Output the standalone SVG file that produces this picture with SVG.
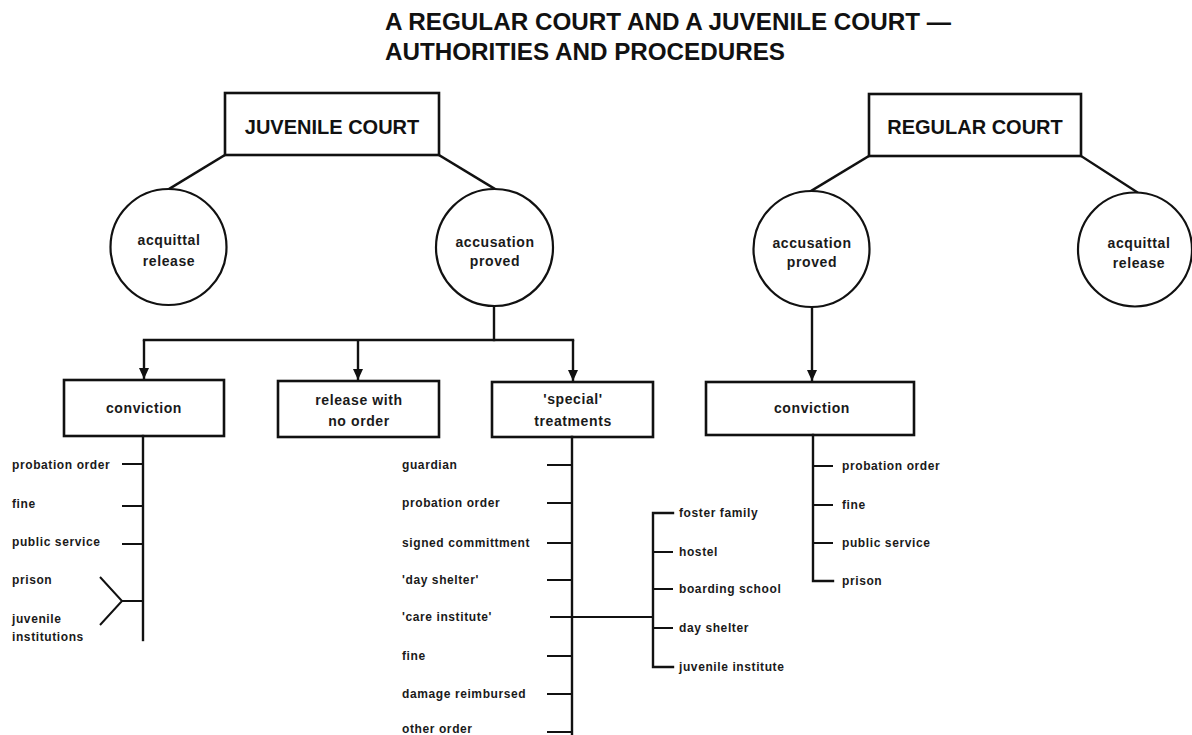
<svg xmlns="http://www.w3.org/2000/svg" width="1192" height="735" viewBox="0 0 1192 735">
<defs>
<marker id="arrow" markerUnits="userSpaceOnUse" markerWidth="11" markerHeight="10" refX="11" refY="5" orient="auto" viewBox="0 0 11 10">
<path d="M0,0 L11,5 L0,10 Z" fill="#111"/>
</marker>
<style>
.box{fill:#fff;stroke:#111;stroke-width:2.6}
.circ{fill:#fff;stroke:#111;stroke-width:2.2}
.ln{fill:none;stroke:#111;stroke-width:2.4;stroke-linecap:square}
.ar{fill:none;stroke:#111;stroke-width:2.4}
.tk{fill:none;stroke:#111;stroke-width:2}
.title{font-family:"Liberation Sans",Arial,sans-serif;font-weight:bold;font-size:24px;fill:#111}
.big{font-family:"Liberation Sans",Arial,sans-serif;font-weight:bold;font-size:20px;fill:#111;text-anchor:middle}
.mid{font-family:"Liberation Sans",Arial,sans-serif;font-weight:bold;font-size:14px;letter-spacing:0.6px;fill:#1a1a1a;text-anchor:middle}
.sm{font-family:"Liberation Sans",Arial,sans-serif;font-weight:bold;font-size:12px;letter-spacing:0.6px;fill:#1a1a1a}
</style>
</defs>
<rect width="1192" height="735" fill="#fff"/>

<g id="title">
<text class="title" x="385" y="30" textLength="566" lengthAdjust="spacingAndGlyphs">A REGULAR COURT AND A JUVENILE COURT —</text>
<text class="title" x="385" y="60" textLength="400" lengthAdjust="spacingAndGlyphs">AUTHORITIES AND PROCEDURES</text>
</g>

<g id="connectors">
<line class="ln" x1="225" y1="155" x2="169" y2="189"/>
<line class="ln" x1="439" y1="155" x2="495" y2="189"/>
<line class="ln" x1="869" y1="156" x2="811" y2="191"/>
<line class="ln" x1="1081" y1="156" x2="1137" y2="192"/>
<line class="ln" x1="494" y1="306" x2="494" y2="340"/>
<line class="ln" x1="144" y1="340" x2="573" y2="340"/>
<line class="ar" x1="144" y1="340" x2="144" y2="379" marker-end="url(#arrow)"/>
<line class="ar" x1="358" y1="340" x2="358" y2="380" marker-end="url(#arrow)"/>
<line class="ar" x1="573" y1="340" x2="573" y2="381" marker-end="url(#arrow)"/>
<line class="ar" x1="812" y1="307" x2="812" y2="381" marker-end="url(#arrow)"/>
</g>

<g id="juvenile-court">
<rect class="box" x="225" y="93" width="214" height="62"/>
<text class="big" x="332" y="134">JUVENILE COURT</text>
</g>

<g id="regular-court">
<rect class="box" x="869" y="94" width="212" height="62"/>
<text class="big" x="975" y="134">REGULAR COURT</text>
</g>

<g id="juv-acquittal">
<circle class="circ" cx="168.5" cy="247" r="58"/>
<text class="mid" x="169" y="245">acquittal</text>
<text class="mid" x="169" y="266">release</text>
</g>

<g id="juv-accusation">
<circle class="circ" cx="494.5" cy="247.5" r="58.5"/>
<text class="mid" x="495" y="247">accusation</text>
<text class="mid" x="495" y="266">proved</text>
</g>

<g id="reg-accusation">
<circle class="circ" cx="811.5" cy="249" r="58"/>
<text class="mid" x="812" y="248">accusation</text>
<text class="mid" x="812" y="267">proved</text>
</g>

<g id="reg-acquittal">
<circle class="circ" cx="1135" cy="249.5" r="57"/>
<text class="mid" x="1139" y="248">acquittal</text>
<text class="mid" x="1139" y="268">release</text>
</g>

<g id="juv-conviction">
<rect class="box" x="64" y="380" width="160" height="56"/>
<text class="mid" x="144" y="413">conviction</text>
</g>

<g id="juv-release">
<rect class="box" x="278" y="381" width="161" height="56"/>
<text class="mid" x="359" y="405">release with</text>
<text class="mid" x="359" y="426">no order</text>
</g>

<g id="juv-special">
<rect class="box" x="492" y="382" width="161" height="55"/>
<text class="mid" x="573" y="404">'special'</text>
<text class="mid" x="573" y="426">treatments</text>
</g>

<g id="reg-conviction">
<rect class="box" x="706" y="382" width="208" height="53"/>
<text class="mid" x="812" y="413">conviction</text>
</g>

<g id="juv-conviction-options">
<path class="ln" d="M143,436 V640"/>
<path class="tk" d="M122,464 H143 M122,506 H143 M122,544 H143 M122,601 H143 M100,577 L122,601 L100,625"/>
<text class="sm" x="12" y="469">probation order</text>
<text class="sm" x="12" y="508">fine</text>
<text class="sm" x="12" y="546">public service</text>
<text class="sm" x="12" y="584">prison</text>
<text class="sm" x="12" y="623">juvenile</text>
<text class="sm" x="12" y="641">institutions</text>
</g>

<g id="juv-special-options">
<path class="ln" d="M572,437 V735"/>
<path class="tk" d="M547,465 H572 M547,503 H572 M547,543 H572 M547,580 H572 M550,617 H653 M547,656 H572 M547,694 H572 M547,732 H572"/>
<text class="sm" x="402" y="469">guardian</text>
<text class="sm" x="402" y="507">probation order</text>
<text class="sm" x="402" y="547">signed committment</text>
<text class="sm" x="402" y="584">'day shelter'</text>
<text class="sm" x="402" y="621">'care institute'</text>
<text class="sm" x="402" y="660">fine</text>
<text class="sm" x="402" y="698">damage reimbursed</text>
<text class="sm" x="402" y="733">other order</text>
</g>

<g id="care-institute-options">
<path class="ln" d="M673,513 H653 V667 H673"/>
<path class="tk" d="M653,552 H673 M653,589 H673 M653,628 H673"/>
<text class="sm" x="679" y="517">foster family</text>
<text class="sm" x="679" y="556">hostel</text>
<text class="sm" x="679" y="593">boarding school</text>
<text class="sm" x="679" y="632">day shelter</text>
<text class="sm" x="679" y="671">juvenile institute</text>
</g>

<g id="reg-conviction-options">
<path class="ln" d="M813,435 V581 H833"/>
<path class="tk" d="M813,466 H833 M813,505 H833 M813,543 H833"/>
<text class="sm" x="842" y="470">probation order</text>
<text class="sm" x="842" y="509">fine</text>
<text class="sm" x="842" y="547">public service</text>
<text class="sm" x="842" y="585">prison</text>
</g>
</svg>
